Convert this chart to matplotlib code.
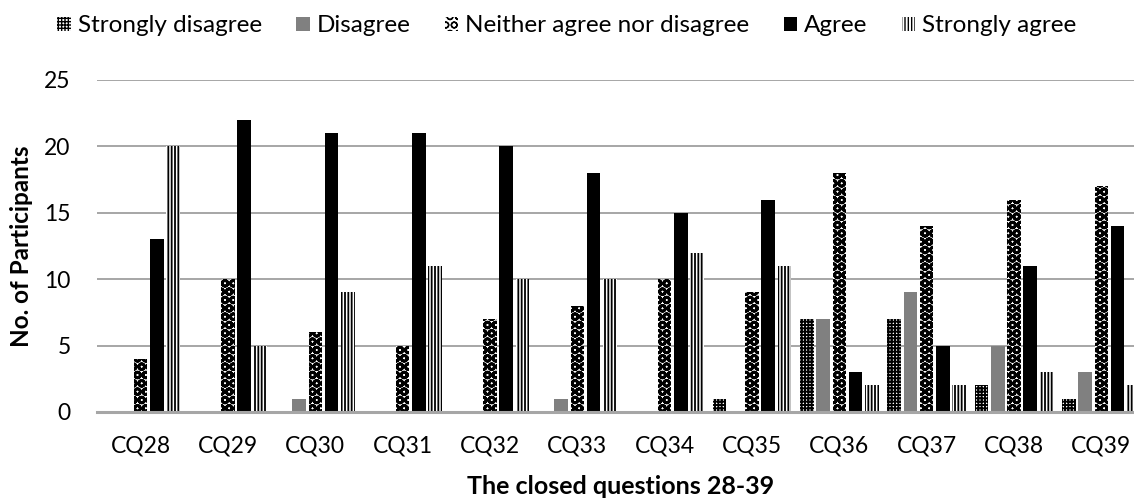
import matplotlib
matplotlib.use("Agg")
import matplotlib.pyplot as plt
import numpy as np

questions = ["CQ28", "CQ29", "CQ30", "CQ31", "CQ32", "CQ33",
             "CQ34", "CQ35", "CQ36", "CQ37", "CQ38", "CQ39"]
strongly_disagree = [0, 0, 0, 0, 0, 0, 0, 1, 7, 7, 2, 1]
disagree = [0, 0, 1, 0, 0, 1, 0, 0, 7, 9, 5, 3]
neither = [4, 10, 6, 5, 7, 8, 10, 9, 18, 14, 16, 17]
agree = [13, 22, 21, 21, 20, 18, 15, 16, 3, 5, 11, 14]
strongly_agree = [20, 5, 9, 11, 10, 10, 12, 11, 2, 2, 3, 2]
series_names = ["Strongly disagree", "Disagree", "Neither agree nor disagree",
                "Agree", "Strongly agree"]
y_ticks = [0, 5, 10, 15, 20, 25]

plt.rcParams["font.family"] = ["Lato", "DejaVu Sans"]

fig = plt.figure(figsize=(11.34, 4.99), dpi=100)
ax = fig.add_axes([97 / 1134, 1 - 412 / 499, 1048 / 1134, 332 / 499])

x = np.arange(len(questions))
step = 0.186
width = 0.155

styles = [
    dict(facecolor="white", edgecolor="black", hatch="+++++", hlw=1.4),
    dict(facecolor="#808080", edgecolor="#808080", hatch=None, hlw=1.0),
    dict(facecolor="white", edgecolor="black", hatch="OO", hlw=2.0),
    dict(facecolor="black", edgecolor="black", hatch=None, hlw=1.0),
    dict(facecolor="white", edgecolor="black", hatch="|||||", hlw=1.3),
]
data = [strongly_disagree, disagree, neither, agree, strongly_agree]

for i, (vals, st, name) in enumerate(zip(data, styles, series_names)):
    with plt.rc_context({"hatch.linewidth": st["hlw"]}):
        ax.bar(x + (i - 2) * step, vals, width=width,
               facecolor=st["facecolor"], edgecolor=st["edgecolor"],
               hatch=st["hatch"], linewidth=0, label=name, zorder=3)

ax.set_xlim(-0.5, len(questions) - 0.5)
ax.set_ylim(0, 25)
ax.set_yticks(y_ticks)
ax.set_xticks(x)
ax.set_xticklabels(questions)
ax.tick_params(axis="both", length=0, labelsize=16.5, colors="black")
ax.tick_params(axis="x", pad=17)
ax.tick_params(axis="y", pad=19)
ax.yaxis.grid(True, color="#a6a6a6", linewidth=1.4, zorder=0)
ax.set_axisbelow(True)
for side in ["top", "right", "left"]:
    ax.spines[side].set_visible(False)
ax.spines["bottom"].set_color("#a6a6a6")
ax.spines["bottom"].set_linewidth(2.2)
ax.spines["bottom"].set_zorder(4)

ax.set_ylabel("No. of Participants", fontsize=17.5, fontweight="bold", labelpad=8)
ax.set_xlabel("The closed questions 28-39", fontsize=18, fontweight="bold", labelpad=13)

fig.legend(loc="center", bbox_to_anchor=(0.5, 1 - 26 / 499), ncol=5, frameon=False,
           fontsize=17.5, handlelength=0.55, handleheight=0.55, handletextpad=0.3,
           columnspacing=1.4)

fig.savefig("out.png", dpi=100)
